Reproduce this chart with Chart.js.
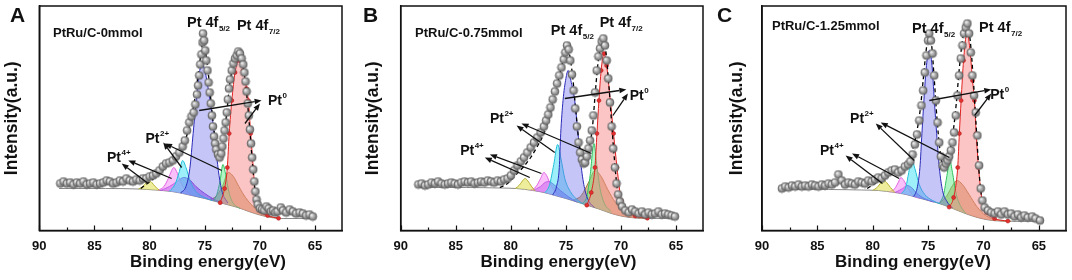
<!DOCTYPE html>
<html lang="en">
<head>
<meta charset="UTF-8">
<title>Pt 4f XPS spectra of PtRu/C</title>
<script src="https://cdn.jsdelivr.net/npm/chart.js@4.4.1/dist/chart.umd.min.js"></script>
<style>
    body { margin: 0; background: #fff; }
    .row { position: relative; width: 1072px; height: 280px; }
    canvas { position: absolute; top: 0; }
</style>
</head>
<body>
<div class="row">
    <canvas id="A" width="360" height="280" style="left:0"></canvas>
    <canvas id="B" width="352" height="280" style="left:360px"></canvas>
    <canvas id="C" width="360" height="280" style="left:712px"></canvas>
</div>
<script>
// axis ticks (binding energy, eV)
const tickE = [90, 85, 80, 75, 70, 65];
const minorE = [87.5, 82.5, 77.5, 72.5, 67.5];
const samples = ['PtRu/C-0mmol', 'PtRu/C-0.75mmol', 'PtRu/C-1.25mmol'];

// ---- panel A : measured points [E, intensity]
const scanA = [[88.1,47],[87.8,49],[87.5,47],[87.2,48],[86.9,46],[86.6,48],[86.3,47],[86.0,49],[85.7,46],[85.4,47],[85.1,48],[84.8,46],[84.5,47],[84.2,48],[83.9,50],[83.6,49],[83.3,47],[83.0,48],[82.7,50],[82.4,49],[82.1,52],[81.8,50],[81.5,49],[81.2,51],[80.9,50],[80.6,52],[80.3,52],[80.0,54],[79.7,55],[79.4,57],[79.1,60],[78.8,64],[78.5,67],[78.2,68],[77.9,70],[77.6,74],[77.3,78],[77.0,84],[76.8,90],[76.6,100],[76.4,108],[76.2,114],[76.0,118],[75.85,126],[75.7,136],[75.6,145],[75.5,155],[75.4,166],[75.3,176],[75.2,188],[75.15,197],[75.05,190],[74.95,180],[74.85,170],[74.75,160],[74.65,148],[74.55,138],[74.45,127],[74.35,115],[74.25,104],[74.15,94],[74.05,87],[73.95,81],[73.8,76],[73.65,73],[73.5,77],[73.4,84],[73.3,92],[73.2,100],[73.1,108],[73.0,118],[72.9,131],[72.8,142],[72.7,151],[72.55,160],[72.4,167],[72.25,172],[72.1,175],[71.95,179],[71.8,177],[71.65,172],[71.5,166],[71.4,158],[71.3,149],[71.2,139],[71.1,127],[71.0,115],[70.9,101],[70.8,87],[70.7,73],[70.6,61],[70.5,49],[70.4,39],[70.3,31],[70.2,26],[70.0,22],[69.8,21],[69.6,20],[69.4,24],[69.2,22],[69.0,19],[68.8,20],[68.6,18],[68.4,19],[68.1,23],[67.9,20],[67.6,18],[67.3,21],[67.0,19],[66.7,17],[66.4,18],[66.1,17],[65.8,15],[65.5,16],[65.2,14]];
const envA = [[80.8,42],[80.2,47],[79.5,53],[78.8,60],[78.1,68],[77.5,76],[77.0,84],[76.6,96],[76.2,113],[75.85,135],[75.55,160],[75.3,180],[75.15,190],[74.95,180],[74.7,160],[74.45,132],[74.2,104],[73.95,84],[73.7,75],[73.5,77],[73.25,95],[73.0,118],[72.75,145],[72.45,164],[72.15,174],[71.9,178],[71.6,170],[71.35,152],[71.1,125],[70.85,92],[70.6,58],[70.35,33],[70.0,22],[69.6,17]];
const bgA = [[88.2,42],[84,42],[81,41.5],[79.5,40.5],[78,39],[77,37],[76,34.5],[75,32],[74,29],[73,26],[72,23],[71,19],[70,15.5],[69,13],[68,12],[66,12],[65.1,12]];
const peaksA = [
    [[81.0,41.5],[80.6,44],[80.3,48],[80.05,50],[79.8,48],[79.5,44],[79.1,40.2]],
    [[79.2,40.2],[78.7,44],[78.3,52],[78.0,60],[77.8,63],[77.55,59],[77.2,49],[76.8,41],[76.2,35]],
    [[79.0,40],[78.2,44],[77.5,49],[76.9,53],[76.4,51],[75.8,44],[75.0,37],[74.2,31.5],[73.4,27.2]],
    [[78.2,39.2],[77.7,46],[77.3,59],[77.0,70],[76.7,63],[76.3,49],[75.8,39],[75.0,33],[74.3,29.9]],
    [[77.2,37.5],[76.7,44],[76.35,62],[76.05,97],[75.75,133],[75.45,160],[75.2,166],[74.95,158],[74.7,143],[74.45,125],[74.2,103],[73.95,78],[73.7,55],[73.4,38],[72.9,27.5]],
    [[74.2,29.6],[73.9,36],[73.6,50],[73.35,66],[73.1,56],[72.8,38],[72.4,27],[71.8,22.2]],
    [[74.6,30.8],[74.0,34],[73.4,44],[72.85,58],[72.4,54],[71.9,44],[71.3,33],[70.6,24],[69.8,17],[69.0,13.6],[68.2,12.1]],
    [[73.6,27.8],[73.2,42],[72.95,63],[72.78,97],[72.54,130],[72.25,158],[71.87,170],[71.5,160],[71.2,142],[71.04,130],[70.83,97],[70.6,63],[70.36,30],[70.0,20],[69.3,15],[68.3,12.2]]
];
const arrowsA = [[75.5,120,69.84,130],[71.35,107,69.99,127],[77.09,63,78.76,88],[73.46,60,78.6,87],[80.12,47,82.53,67],[78.0,52,81.93,70]];
const labelsA = [['sample',88.76,194],['orb',76.61,203.5,'5/2'],['orb',72.08,201,'7/2'],['ion',69.27,125.5,'0'],['ion',80.37,87.5,'2+'],['ion',83.86,68.5,'4+']];

// ---- panel B
const scanB = [[88.4,46],[88.1,47],[87.8,45],[87.5,46],[87.2,48],[86.9,47],[86.6,49],[86.3,47],[86.0,46],[85.7,47],[85.4,48],[85.1,47],[84.8,46],[84.5,48],[84.2,49],[83.9,48],[83.6,49],[83.3,47],[83.0,48],[82.7,49],[82.4,48],[82.1,50],[81.8,49],[81.5,48],[81.2,50],[80.9,49],[80.6,51],[80.3,52],[80.0,55],[79.7,60],[79.4,65],[79.1,69],[78.8,73],[78.5,78],[78.2,83],[77.9,88],[77.6,93],[77.3,98],[77.0,104],[76.8,110],[76.6,116],[76.4,123],[76.2,131],[76.0,139],[75.8,147],[75.6,155],[75.4,163],[75.2,171],[75.05,178],[74.9,185],[74.75,181],[74.6,170],[74.45,156],[74.3,140],[74.15,122],[74.0,104],[73.85,88],[73.7,78],[73.55,71],[73.4,67],[73.25,68],[73.1,74],[72.95,82],[72.8,90],[72.65,100],[72.5,115],[72.35,138],[72.2,160],[72.05,174],[71.9,182],[71.75,189],[71.6,192],[71.45,185],[71.3,170],[71.15,152],[71.0,128],[70.85,104],[70.7,82],[70.55,63],[70.4,47],[70.25,36],[70.1,29],[69.9,24],[69.6,20],[69.3,18],[69.0,21],[68.7,19],[68.4,17],[68.1,19],[67.8,16],[67.5,18],[67.2,16],[66.9,17],[66.6,19],[66.3,16],[66.0,17],[65.7,16],[65.4,15],[65.1,14]];
const envB = [[81.0,43],[80.3,47],[79.6,55],[78.9,63],[78.2,73],[77.6,84],[77.0,97],[76.5,114],[76.1,132],[75.7,150],[75.35,166],[75.05,178],[74.85,183],[74.6,172],[74.35,150],[74.1,120],[73.85,92],[73.6,76],[73.35,69],[73.1,74],[72.85,86],[72.6,102],[72.35,135],[72.1,166],[71.85,184],[71.6,191],[71.35,177],[71.1,146],[70.85,108],[70.6,72],[70.35,43],[70.05,28],[69.6,20]];
const bgB = [[88.4,43],[84,43],[81,42.5],[79.5,42],[78,40],[77,38],[76,35],[75,32],[74,28.5],[73,25],[72,21.5],[71,17.5],[70,14.5],[69,12.8],[68,12.2],[65.1,12]];
const peaksB = [
    [[79.6,42],[79.25,45],[78.95,49.5],[78.7,52],[78.45,49.5],[78.15,44.5],[77.8,39.6]],
    [[78.2,40.3],[77.7,44],[77.3,52],[77.0,58],[76.75,55],[76.4,46],[75.9,38],[75.3,33]],
    [[78.0,40],[77.3,44],[76.9,48],[76.55,49],[76.1,46],[75.5,40],[74.8,34],[74.0,28.5]],
    [[76.9,37.7],[76.5,45],[76.1,66],[75.75,86],[75.45,72],[75.1,52],[74.6,39],[74.0,31],[73.4,26.4]],
    [[76.2,35.6],[75.85,44],[75.6,63],[75.47,97],[75.26,130],[75.0,152],[74.8,160],[74.55,150],[74.2,130],[73.9,97],[73.6,63],[73.3,42],[72.9,29],[72.4,23]],
    [[73.5,26.7],[73.1,34],[72.8,55],[72.45,87],[72.2,66],[71.9,42],[71.5,27],[70.9,19]],
    [[74.4,29.9],[73.6,35],[72.9,49],[72.35,60],[71.8,54],[71.2,41],[70.5,28],[69.6,18],[68.6,13.5],[67.5,12.1]],
    [[73.1,25.3],[72.7,38],[72.36,63],[72.18,97],[72.0,130],[71.8,160],[71.54,177],[71.3,165],[70.97,130],[70.67,97],[70.36,63],[69.97,30],[69.5,20],[68.7,14.5],[67.6,12.3]]
];
const arrowsB = [[75.1,132,69.51,141],[70.73,115,69.37,137],[76.01,78,79.48,105],[72.68,77,79.03,107],[78.28,53,82.36,73],[77.22,57,81.9,76]];
const labelsB = [['sample',88.70,194],['orb',76.37,195.5,'5/2'],['orb',71.93,204,'7/2'],['ion',69.2,130.5,'0'],['ion',81.9,107.5,'2+'],['ion',84.6,75.5,'4+']];

// ---- panel C
const scanC = [[88.2,42],[87.9,44],[87.6,43],[87.3,45],[87.0,44],[86.7,46],[86.4,44],[86.1,45],[85.8,44],[85.5,46],[85.2,45],[84.9,44],[84.6,46],[84.3,45],[84.0,47],[83.7,46],[83.4,48],[83.1,56],[82.8,50],[82.5,46],[82.2,48],[81.9,47],[81.6,46],[81.3,49],[81.0,48],[80.7,47],[80.4,50],[80.1,49],[79.8,51],[79.5,53],[79.2,52],[78.9,55],[78.6,58],[78.3,60],[78.0,61],[77.7,58],[77.4,60],[77.1,64],[76.8,66],[76.6,69],[76.4,76],[76.2,86],[76.0,96],[75.8,110],[75.6,125],[75.45,140],[75.3,158],[75.15,175],[75.0,190],[74.9,197],[74.75,190],[74.6,177],[74.45,155],[74.3,130],[74.15,108],[74.0,88],[73.85,74],[73.7,65],[73.55,63],[73.4,67],[73.25,70],[73.1,74],[72.95,80],[72.8,88],[72.65,98],[72.5,115],[72.35,135],[72.2,155],[72.05,172],[71.9,185],[71.75,197],[71.6,203],[71.45,207],[71.3,197],[71.15,178],[71.0,155],[70.85,135],[70.7,118],[70.55,95],[70.4,65],[70.25,42],[70.1,30],[69.9,23],[69.6,20],[69.3,18],[69.0,17],[68.7,19],[68.4,16],[68.1,19],[67.8,16],[67.5,17],[67.2,14],[66.9,16],[66.6,13],[66.3,15],[66.0,13],[65.6,14],[65.3,12],[64.9,10]];
const envC = [[80.5,42],[79.8,47],[79.0,53],[78.3,58],[77.6,62],[77.1,66],[76.7,72],[76.3,85],[76.0,100],[75.7,122],[75.45,150],[75.2,178],[74.95,195],[74.7,187],[74.45,152],[74.2,112],[73.95,82],[73.7,66],[73.45,64],[73.2,72],[72.95,84],[72.7,102],[72.45,128],[72.2,160],[71.95,186],[71.7,202],[71.45,206],[71.2,190],[70.95,156],[70.7,112],[70.45,66],[70.2,36],[69.9,22],[69.5,16]];
const bgC = [[88.2,41],[84,41],[81,40.5],[79.5,40],[78,38],[77,36],[76,33],[75,30],[74,27],[73,23],[72,18.5],[71,14.5],[70,11.5],[69,9.8],[67.5,9.2],[64.9,9]];
const peaksC = [
    [[80.0,40.2],[79.6,43],[79.25,48],[79.0,50],[78.75,48],[78.4,43],[78.0,38]],
    [[78.5,38.6],[78.0,42],[77.7,48],[77.45,53],[77.2,50],[76.8,42],[76.3,34.5],[75.7,32.3]],
    [[78.0,38],[77.3,42],[76.9,45],[76.5,43],[76.0,37],[75.3,31.8],[74.5,28.5]],
    [[77.4,36.8],[77.0,44],[76.75,58],[76.5,72],[76.2,62],[75.8,46],[75.3,36],[74.6,30],[73.9,26.7]],
    [[76.3,33.8],[76.0,42],[75.74,63],[75.56,97],[75.38,130],[75.15,165],[74.9,180],[74.65,165],[74.44,130],[74.23,97],[73.99,63],[73.7,40],[73.3,29],[72.8,22.5]],
    [[74.0,27],[73.6,36],[73.3,55],[73.05,70],[72.8,58],[72.5,38],[72.1,25],[71.6,17]],
    [[74.0,27],[73.3,35],[72.8,45],[72.4,50],[71.9,46],[71.3,36],[70.6,24],[69.8,15],[68.8,10.5],[67.5,9.3]],
    [[73.1,23.4],[72.7,33],[72.33,63],[72.18,97],[72.02,130],[71.8,170],[71.48,198],[71.2,178],[70.99,150],[70.82,130],[70.66,97],[70.45,63],[70.12,30],[69.7,18],[69.0,12],[67.8,9.4]]
];
const arrowsC = [[74.89,130,69.3,141],[70.8,115,69.3,137],[76.25,70,79.73,107],[73.08,73,79.28,108],[79.12,47,82.45,75],[77.61,52,81.87,77]];
const labelsC = [['sample',89.1,200.5],['orb',76.45,197.5,'5/2'],['orb',70.4,199,'7/2'],['ion',69.4,132,'0'],['ion',82.05,107.5,'2+'],['ion',84.76,75.5,'4+']];

// component colours, same order as peaks arrays
const peakFill = ['rgba(225,225,90,0.6)', 'rgba(245,140,245,0.55)', 'rgba(150,50,230,0.55)', 'rgba(60,225,245,0.5)',
                  'rgba(110,110,235,0.4)', 'rgba(100,235,140,0.5)', 'rgba(195,140,70,0.6)', 'rgba(250,140,140,0.5)'];
const peakLine = ['#b8b030', '#e060e0', '#8a30d0', '#20c0d8', '#2a2ab8', '#30c060', '#a87838', '#e02020'];
// which component is painted on top (first = top)
const stackOrder = [7, 4, 5, 3, 0, 1, 2, 6];

Chart.defaults.font.family = "'Liberation Sans', Arial, sans-serif";
Chart.defaults.color = '#111';

const ball = (() => {
    const r = 4, s = 2 * r + 2, c = document.createElement('canvas');
    c.width = c.height = s;
    const g = c.getContext('2d');
    const grad = g.createRadialGradient(s / 2 - 1.5, s / 2 - 1.6, 0.4, s / 2, s / 2, r);
    grad.addColorStop(0, '#f4f4f4');
    grad.addColorStop(0.45, '#b2b2b2');
    grad.addColorStop(1, '#6c6c6c');
    g.fillStyle = grad;
    g.beginPath(); g.arc(s / 2, s / 2, r, 0, Math.PI * 2); g.fill();
    g.strokeStyle = 'rgba(85,85,85,0.9)'; g.lineWidth = 0.7; g.stroke();
    return c;
})();

const panels = {
    A: { sample: samples[0], scan: scanA, env: envA, bg: bgA, peaks: peaksA, arrows: arrowsA, labels: labelsA,
         letter: 'A', letterX: 10, yw: 39.3, padR: 18, yPad: 1.5, titleX: 208 },
    B: { sample: samples[1], scan: scanB, env: envB, bg: bgB, peaks: peaksB, arrows: arrowsB, labels: labelsB,
         letter: 'B', letterX: 3, yw: 40.7, padR: 9, yPad: 2.8, titleX: 198.5 },
    C: { sample: samples[2], scan: scanC, env: envC, bg: bgC, peaks: peaksC, arrows: arrowsC, labels: labelsC,
         letter: 'C', letterX: 5, yw: 50, padR: 6, yPad: 15, titleX: 201 }
};

function arrow(ctx, x1, y1, x2, y2) {
    const a = Math.atan2(y2 - y1, x2 - x1), L = 7, W = 2.8;
    const bx = x2 - L * Math.cos(a), by = y2 - L * Math.sin(a);
    ctx.beginPath(); ctx.moveTo(x1, y1); ctx.lineTo(bx, by); ctx.stroke();
    ctx.beginPath(); ctx.moveTo(x2, y2);
    ctx.lineTo(bx + W * Math.sin(a), by - W * Math.cos(a));
    ctx.lineTo(bx - W * Math.sin(a), by + W * Math.cos(a));
    ctx.closePath(); ctx.fill();
}

// frame, inward ticks, arrows and text labels
const decor = {
    id: 'decor',
    afterDraw(chart) {
        const p = panels[chart.canvas.id];
        const { ctx, chartArea: a, scales: { x, y } } = chart;
        ctx.save();
        ctx.strokeStyle = '#111';
        ctx.fillStyle = '#111';
        ctx.lineWidth = 1.5;
        ctx.strokeRect(a.left, a.top, a.right - a.left, a.bottom - a.top);
        ctx.lineWidth = 1.2;
        [[tickE, 5], [minorE, 3]].forEach(([list, len]) => list.forEach(v => {
            const px = Math.round(x.getPixelForValue(v)) + 0.5;
            ctx.beginPath(); ctx.moveTo(px, a.bottom); ctx.lineTo(px, a.bottom - len); ctx.stroke();
        }));
        ctx.lineWidth = 1.3;
        p.arrows.forEach(([e1, v1, e2, v2]) => arrow(ctx, x.getPixelForValue(e1), y.getPixelForValue(v1),
                                                      x.getPixelForValue(e2), y.getPixelForValue(v2)));
        ctx.textBaseline = 'alphabetic';
        ctx.textAlign = 'left';
        const fam = "'Liberation Sans', Arial, sans-serif";
        p.labels.forEach(([kind, e, v, script]) => {
            const px = x.getPixelForValue(e), py = y.getPixelForValue(v);
            if (kind === 'sample') {
                ctx.font = 'bold 13px ' + fam;
                ctx.fillText(p.sample, px, py);
            } else if (kind === 'orb') {
                ctx.font = 'bold 14.5px ' + fam;
                ctx.fillText('Pt 4f', px, py);
                const w = ctx.measureText('Pt 4f').width;
                ctx.font = 'bold 8px ' + fam;
                ctx.fillText(script, px + w + 0.5, py + 4);
            } else {
                ctx.font = 'bold 14px ' + fam;
                ctx.fillText('Pt', px, py);
                const w = ctx.measureText('Pt').width;
                ctx.font = 'bold 8px ' + fam;
                ctx.fillText(script, px + w + 0.5, py - 7);
            }
        });
        ctx.font = 'bold 21px ' + fam;
        ctx.fillText(p.letter, p.letterX, 22);
        ctx.font = 'bold 17px ' + fam;
        ctx.textAlign = 'center';
        ctx.fillText('Binding energy(eV)', p.titleX, 267);
        ctx.restore();
    }
};

Object.keys(panels).forEach(id => {
    const p = panels[id];
    const datasets = [];
    datasets.push({ data: p.scan, showLine: false, pointStyle: ball, pointRadius: 4, pointHoverRadius: 4 });
    datasets.push({ data: p.env, borderColor: '#000', borderWidth: 1.3, borderDash: [4, 3], pointRadius: 0,
                    cubicInterpolationMode: 'monotone', fill: false });
    const bgIndex = 2 + stackOrder.length;
    stackOrder.forEach(k => {
        datasets.push({
            data: p.peaks[k], borderColor: peakLine[k], borderWidth: 1, backgroundColor: peakFill[k],
            fill: bgIndex, cubicInterpolationMode: 'monotone',
            pointRadius: k === 7 ? 2 : 0, pointBackgroundColor: '#e23030', pointBorderColor: '#b01818', pointBorderWidth: 0.5
        });
    });
    datasets.push({ data: p.bg, borderColor: '#8a8a8a', borderWidth: 1, pointRadius: 0, fill: false,
                    cubicInterpolationMode: 'monotone' });

    new Chart(document.getElementById(id), {
        type: 'line',
        data: { datasets },
        options: {
            responsive: false,
            animation: false,
            devicePixelRatio: 1,
            events: [],
            layout: { padding: { top: 6, right: p.padR, left: 0, bottom: 0 } },
            plugins: { legend: { display: false }, tooltip: { enabled: false } },
            scales: {
                x: {
                    type: 'linear', reverse: true, min: 62.55, max: 90,
                    afterBuildTicks: s => { s.ticks = tickE.map(v => ({ value: v })); },
                    afterFit: s => { s.height = 49.5; },
                    ticks: { font: { size: 13, weight: 'bold' }, color: '#111', padding: 8, maxRotation: 0, autoSkip: false },
                    grid: { display: true, drawOnChartArea: false, drawTicks: false },
                    border: { color: '#111', width: 1.5 }
                },
                y: {
                    min: 0, max: 224.5,
                    afterFit: s => { s.width = p.yw; },
                    ticks: { display: false },
                    grid: { display: false, drawTicks: false },
                    border: { color: '#111', width: 1.5 },
                    title: { display: true, text: 'Intensity(a.u.)', color: '#111',
                             font: { size: 17.5, weight: 'bold' }, padding: { top: p.yPad, bottom: 0 } }
                }
            }
        },
        plugins: [decor]
    });
});
</script>
</body>
</html>
